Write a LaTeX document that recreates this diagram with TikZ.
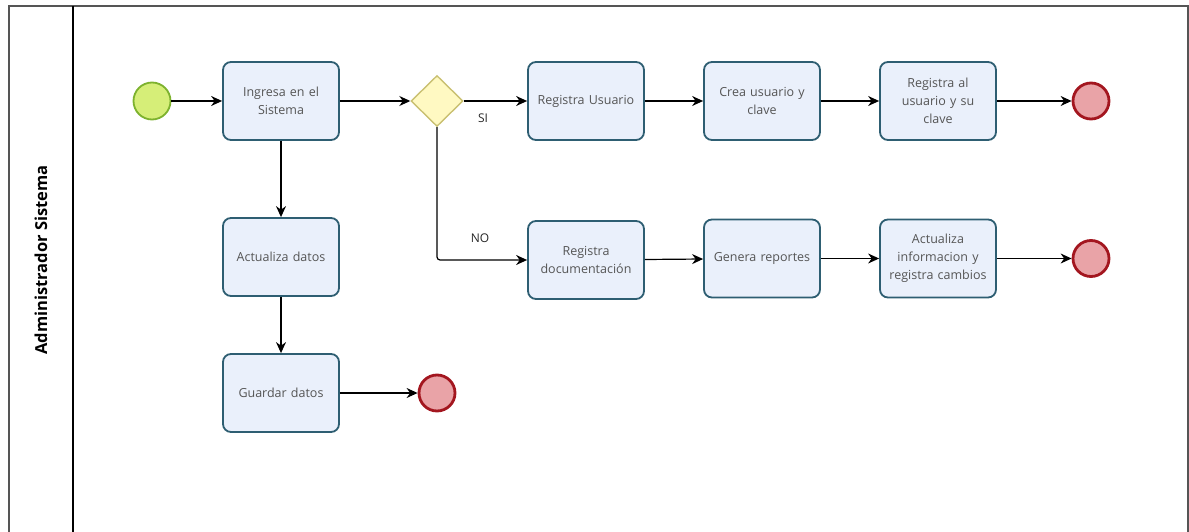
\documentclass[tikz,border=0pt]{standalone}
\usepackage{fontspec}
\setmainfont{Open Sans}
\usetikzlibrary{arrows.meta,shapes.geometric}
\definecolor{boxfill}{HTML}{EAF0FB}
\definecolor{boxdraw}{HTML}{2E5E72}
\definecolor{startfill}{HTML}{D6EE78}
\definecolor{startdraw}{HTML}{7DB22E}
\definecolor{endfill}{HTML}{E9A3A7}
\definecolor{enddraw}{HTML}{A3161F}
\definecolor{gwfill}{HTML}{FFF9C2}
\definecolor{gwdraw}{HTML}{C9C071}
\definecolor{txt}{HTML}{555555}
\definecolor{frame}{HTML}{555555}
\tikzset{
  task/.style={draw=boxdraw, fill=boxfill, line width=1.8pt, rounded corners=8pt,
    minimum width=116pt, minimum height=78pt, inner sep=2pt, text width=112pt, align=center,
    font=\fontsize{12.5}{18}\selectfont, text=txt},
  startev/.style={circle, draw=startdraw, fill=startfill, line width=1.8pt, minimum size=37pt, inner sep=0pt},
  endev/.style={circle, draw=enddraw, fill=endfill, line width=2.8pt, minimum size=36pt, inner sep=0pt},
  gateway/.style={diamond, draw=gwdraw, fill=gwfill, line width=1.4pt, minimum width=52pt, minimum height=51pt, inner sep=0pt, aspect=1},
  flow/.style={-{Stealth[length=11pt,width=10pt]}, line width=1.2pt, black},
  lbl/.style={font=\fontsize{12}{14}\selectfont, text=black!85}
}
\begin{document}
\begin{tikzpicture}[x=1pt,y=-1pt]
\useasboundingbox (0,0) rectangle (1189,532);
% pool frame
\draw[frame, line width=1.3pt] (9,532) -- (9,6) -- (1188,6) -- (1188,532);
\draw[black, line width=1.1pt] (73,6) -- (73,532);
\node[rotate=90, font=\bfseries\fontsize{16.5}{18}\selectfont, text=black] (lane) at (41,260) {Administrador Sistema};

% row 1
\node[startev] (s) at (152,101) {};
\node[task] (t1) at (281,101) {Ingresa en el\\Sistema};
\node[gateway] (g) at (437,101) {};
\node[task] (t2) at (586,101) {Registra Usuario};
\node[task] (t3) at (762,101) {Crea usuario y\\clave};
\node[task] (t4) at (938,101) {Registra al\\usuario y su\\clave};
\node[endev] (e1) at (1091,101) {};

% row 2
\node[task] (t5) at (586,260) {Registra\\documentación};
\node[task] (t6) at (762,258.5) {Genera reportes};
\node[task] (t7) at (938,258.5) {Actualiza\\informacion y\\registra cambios};
\node[endev] (e2) at (1091,258.5) {};

% left column
\node[task] (t8) at (281,257) {Actualiza datos};
\node[task] (t9) at (281,393) {Guardar datos};
\node[endev] (e3) at (437,393) {};

% labels
\node[lbl] (si) at (483,118) {SI};
\node[lbl] (no) at (480,238) {NO};

% flows
\draw[flow] (s) -- (t1);
\draw[flow] (t1) -- (g);
\draw[flow] (g) -- (t2);
\draw[flow] (t2) -- (t3);
\draw[flow] (t3) -- (t4);
\draw[flow] (t4) -- (e1);
\draw[flow, rounded corners=3pt] (g.south) |- (t5.west);
\draw[flow] (t5) -- (t6);
\draw[flow] (t6) -- (t7);
\draw[flow] (t7) -- (e2);
\draw[flow] (t1) -- (t8);
\draw[flow] (t8) -- (t9);
\draw[flow] (t9) -- (e3);
\end{tikzpicture}
\end{document}
